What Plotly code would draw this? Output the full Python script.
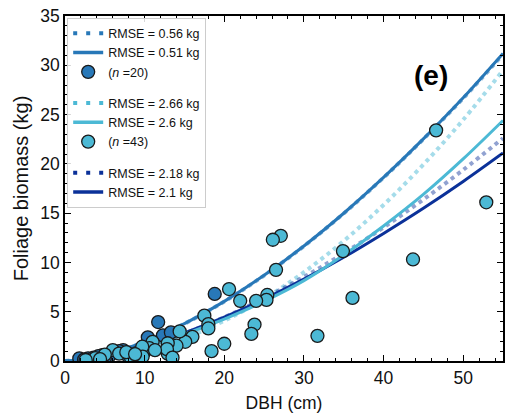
import plotly.graph_objects as go

# ---- data ----
dbh_grid = [0, 2.5, 5, 7.5, 10, 15, 20, 25, 30, 35, 40, 45, 50, 55]

# group 1 fits
fit1_dot = [0, 0.15, 0.62, 1.22, 1.95, 3.78, 6.03, 8.67, 11.65, 14.97, 18.6, 22.5, 26.65, 31.1]
fit1_sol = [0, 0.16, 0.64, 1.25, 1.97, 3.80, 6.05, 8.69, 11.67, 14.99, 18.62, 22.53, 26.7, 31.2]
# group 2 fits
fit2_dot = [0, 0.07, 0.27, 0.62, 1.05, 2.32, 4.08, 6.31, 9.01, 12.18, 15.83, 19.93, 24.47, 29.5]
fit2_sol = [0, 0.15, 0.45, 0.9, 1.42, 2.72, 4.25, 6.05, 8.15, 10.75, 13.7, 16.9, 20.5, 24.4]
# group 3 fits
fit3_dot = [0, 0.15, 0.48, 0.93, 1.46, 2.80, 4.45, 6.36, 8.53, 10.93, 13.55, 16.38, 19.39, 22.6]
fit3_sol = [0, 0.18, 0.53, 0.99, 1.54, 2.86, 4.45, 6.28, 8.30, 10.52, 12.94, 15.49, 18.21, 21.1]

obs1_dbh = [18.8, 11.7, 10.4, 12.3, 13.3, 10.0, 7.3, 6.1, 4.7, 2.9, 1.8, 2.4, 5.5, 6.8, 8.3, 3.6, 5.0, 8.0, 4.2, 9.0]
obs1_fol = [6.8, 3.95, 2.4, 2.6, 2.9, 0.95, 1.1, 0.85, 0.6, 0.27, 0.27, 0.15, 0.45, 1.0, 0.6, 0.35, 0.3, 0.4, 0.5, 0.8]

obs2_dbh = [52.9, 46.6, 43.7, 36.1, 34.9, 31.7, 27.1, 26.1, 26.5, 25.4, 25.3, 24.0, 22.0, 20.6,
            23.8, 23.4, 20.0, 18.4, 17.5, 18.0, 18.0, 16.0, 15.1, 14.4, 14.0, 12.9, 12.9, 12.8,
            11.0, 10.6, 9.7, 9.75, 8.3, 6.0, 6.8, 5.0, 3.8, 7.7, 11.3, 13.5, 4.4, 8.8, 2.6]
obs2_fol = [16.1, 23.4, 10.3, 6.4, 11.15, 2.55, 12.7, 12.3, 9.25, 6.7, 6.2, 6.1, 6.1, 7.3,
            3.7, 2.75, 1.75, 1.0, 4.6, 3.75, 3.3, 2.45, 1.95, 3.0, 1.55, 1.8, 0.75, 1.2,
            1.95, 1.3, 1.45, 0.45, 0.3, 1.1, 0.75, 0.65, 0.3, 0.9, 1.1, 0.35, 0.2, 0.7, 0.1]

labels = ["RMSE = 0.56 kg", "RMSE = 0.51 kg", "(<i>n</i> =20)",
          "RMSE = 2.66 kg", "RMSE = 2.6 kg", "(<i>n</i> =43)",
          "RMSE = 2.18 kg", "RMSE = 2.1 kg"]

C1 = "#2878b8"
C2 = "#4cb9d5"
C3 = "#0b3199"
C1a = "rgba(40,120,184,0.55)"
C2a = "rgba(76,185,213,0.5)"
C3a = "rgba(11,49,153,0.45)"

DOT = "4px,4px"
LEGDOT = "4px,9px"
fig = go.Figure()

for ys, col, dash, w in [
    (fit2_dot, C2a, DOT, 4), (fit3_dot, C3a, DOT, 4),
    (fit3_sol, C3, "solid", 3), (fit2_sol, C2, "solid", 3),
    (fit1_sol, C1, "solid", 3), (fit1_dot, C1a, DOT, 4),
]:
    fig.add_trace(go.Scatter(x=dbh_grid, y=ys, mode="lines", line_shape="spline",
                             line=dict(color=col, width=w, dash=dash), showlegend=False,
                             hoverinfo="skip"))

mk = dict(size=13, line=dict(color="#1a1a1a", width=1.3))
fig.add_trace(go.Scatter(x=obs1_dbh, y=obs1_fol, mode="markers",
                         marker=dict(color=C1, **mk), showlegend=False))
fig.add_trace(go.Scatter(x=obs2_dbh, y=obs2_fol, mode="markers",
                         marker=dict(color=C2, **mk), showlegend=False))

leg = [
    ("g1", labels[0], "lines", C1, LEGDOT), ("g1", labels[1], "lines", C1, "solid"),
    ("g1", labels[2], "markers", C1, None),
    ("g2", labels[3], "lines", C2, LEGDOT), ("g2", labels[4], "lines", C2, "solid"),
    ("g2", labels[5], "markers", C2, None),
    ("g3", labels[6], "lines", C3, LEGDOT), ("g3", labels[7], "lines", C3, "solid"),
]
for g, name, mode, col, dash in leg:
    if mode == "lines":
        fig.add_trace(go.Scatter(x=[None], y=[None], mode="lines", name=name, legendgroup=g,
                                 line=dict(color=col, width=4 if dash != "solid" else 3.5, dash=dash)))
    else:
        fig.add_trace(go.Scatter(x=[None], y=[None], mode="markers", name=name, legendgroup=g,
                                 marker=dict(color=col, **mk)))

font_family = "Liberation Sans, Arial, sans-serif"
axis_common = dict(showline=True, linecolor="black", linewidth=1.5, mirror="allticks",
                   ticks="inside", ticklen=6, tickwidth=1.3, tickcolor="black",
                   showgrid=False, zeroline=False,
                   tickfont=dict(size=17.5, color="#111"))

fig.update_xaxes(range=[0, 55], dtick=10, title_text="DBH (cm)", title_standoff=10,
                 title_font=dict(size=17.5, color="#111"),
                 minor=dict(ticks="inside", dtick=2, ticklen=3.5, tickwidth=1, tickcolor="black"),
                 **axis_common)
fig.update_yaxes(range=[0, 35], dtick=5, title_text="Foliage biomass (kg)", title_standoff=6,
                 title_font=dict(size=20, color="#111"),
                 minor=dict(ticks="inside", dtick=1, ticklen=3.5, tickwidth=1, tickcolor="black"),
                 **axis_common)

fig.add_annotation(text="<b>(e)</b>", x=0.8795, y=0.878, xref="paper", yref="paper",
                   showarrow=False, font=dict(size=28, color="black", family=font_family))

fig.update_layout(
    width=507, height=417,
    margin=dict(l=65, r=2, t=16, b=56),
    plot_bgcolor="white", paper_bgcolor="white",
    font=dict(family=font_family, color="#111"),
    legend=dict(x=0.005, y=0.995, xanchor="left", yanchor="top",
                bgcolor="rgba(255,255,255,0.85)", bordercolor="#cccccc", borderwidth=1,
                font=dict(size=12.5, color="#111"), traceorder="grouped",
                tracegroupgap=12, itemwidth=30),
)

fig.write_html("out.html")
